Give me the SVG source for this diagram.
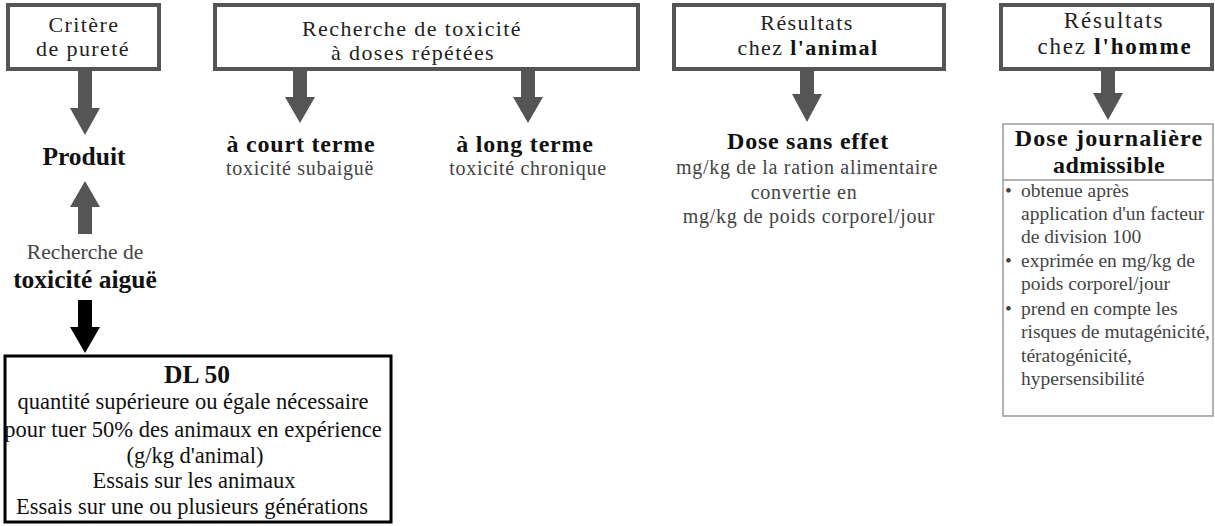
<svg xmlns="http://www.w3.org/2000/svg" width="1215" height="526" viewBox="0 0 1215 526" font-family="'Liberation Serif', serif">
<style>
.t{font-size:22px;letter-spacing:1.4px;fill:#222;text-anchor:middle}
.b{font-size:25.5px;font-weight:bold;fill:#111;text-anchor:middle}
.b2{font-size:24px;font-weight:bold;fill:#111;text-anchor:middle}
.s{font-size:21.5px;fill:#444;text-anchor:middle}
.s2{font-size:20px;fill:#444;text-anchor:middle}
.d{font-size:22.5px;fill:#111;text-anchor:middle}
.l{font-size:19.5px;fill:#444;text-anchor:start}
.box{fill:#fff;stroke:#555;stroke-width:4}
.ga{fill:#555}
.ka{fill:#000}
</style>
<rect width="1215" height="526" fill="#fff"/>
<g id="connectors">
<polygon class="ga" points="78,70 92,70 92,108 100,108 85,135 70,108 78,108"/>
<polygon class="ga" points="85,181 100,207 92,207 92,234 78,234 78,207 70,207"/>
<polygon class="ka" points="78,300 92,300 92,327 100,327 85,353 70,327 78,327"/>
<polygon class="ga" points="293,70 307,70 307,97 315,97 300,123 285,97 293,97"/>
<polygon class="ga" points="521,70 535,70 535,97 543,97 528,123 513,97 521,97"/>
<polygon class="ga" points="800,70 814,70 814,94 822,94 807,122 792,94 800,94"/>
<polygon class="ga" points="1101,70 1115,70 1115,93 1123,93 1108,120 1093,93 1101,93"/>
</g>
<g id="critere">
<rect class="box" x="8" y="5" width="151" height="64"/>
<text class="t" x="84" y="32">Critère</text>
<text class="t" x="83" y="56">de pureté</text>
</g>
<g id="produit">
<text class="b" x="84" y="165">Produit</text>
</g>
<g id="aigue">
<text class="s" x="85" y="259">Recherche de</text>
<text class="b" x="85" y="288">toxicité aiguë</text>
</g>
<g id="dl50">
<rect x="5" y="356" width="386" height="166" fill="#fff" stroke="#000" stroke-width="3"/>
<text class="b" x="197" y="383">DL 50</text>
<text class="d" x="193" y="409">quantité supérieure ou égale nécessaire</text>
<text class="d" x="193" y="437">pour tuer 50% des animaux en expérience</text>
<text class="d" x="195" y="463">(g/kg d'animal)</text>
<text class="d" x="194" y="488">Essais sur les animaux</text>
<text class="d" x="192" y="514">Essais sur une ou plusieurs générations</text>
</g>
<g id="repetees">
<rect class="box" x="215" y="5" width="423" height="64"/>
<text class="t" x="412" y="36">Recherche de toxicité</text>
<text class="t" x="413" y="60">à doses répétées</text>
</g>
<g id="court">
<text class="b2" x="301" y="152" style="letter-spacing:0.8px">à court terme</text>
<text class="s2" x="300" y="175" style="letter-spacing:0.7px">toxicité subaiguë</text>
</g>
<g id="long">
<text class="b2" x="525" y="152" style="letter-spacing:0.8px">à long terme</text>
<text class="s2" x="528" y="175" style="letter-spacing:0.7px">toxicité chronique</text>
</g>
<g id="animal">
<rect class="box" x="674" y="5" width="270" height="64"/>
<text class="t" x="807" y="30">Résultats</text>
<text class="t" x="808" y="55">chez <tspan font-weight="bold" fill="#111">l'animal</tspan></text>
</g>
<g id="dose-sans-effet">
<text class="b2" x="808" y="149" style="letter-spacing:0.75px">Dose sans effet</text>
<text class="s2" x="807" y="174" style="letter-spacing:0.7px">mg/kg de la ration alimentaire</text>
<text class="s2" x="804" y="199" style="letter-spacing:0.7px">convertie en</text>
<text class="s2" x="809" y="223" style="letter-spacing:0.7px">mg/kg de poids corporel/jour</text>
</g>
<g id="homme">
<rect class="box" x="1001" y="5" width="211" height="64"/>
<text class="t" x="1114" y="28" style="font-size:23px;letter-spacing:1.8px">Résultats</text>
<text class="t" x="1115" y="54" style="font-size:23px;letter-spacing:1.8px">chez <tspan font-weight="bold" fill="#111">l'homme</tspan></text>
</g>
<g id="dja">
<rect x="1003" y="124" width="210" height="292" fill="#fff" stroke="#999" stroke-width="1.5"/>
<line x1="1003" y1="180" x2="1213" y2="180" stroke="#999" stroke-width="1.5"/>
<text class="b2" x="1109" y="146" style="letter-spacing:1.2px">Dose journalière</text>
<text class="b2" x="1109" y="173" style="letter-spacing:0.4px">admissible</text>
<text class="l" x="1005" y="197">•</text>
<text class="l" x="1005" y="267">•</text>
<text class="l" x="1005" y="315">•</text>
<text class="l" x="1021" y="197">obtenue après</text>
<text class="l" x="1021" y="220">application d'un facteur</text>
<text class="l" x="1021" y="243">de division 100</text>
<text class="l" x="1021" y="267">exprimée en mg/kg de</text>
<text class="l" x="1021" y="290">poids corporel/jour</text>
<text class="l" x="1021" y="315">prend en compte les</text>
<text class="l" x="1021" y="338">risques de mutagénicité,</text>
<text class="l" x="1021" y="362">tératogénicité,</text>
<text class="l" x="1021" y="385">hypersensibilité</text>
</g>
</svg>
